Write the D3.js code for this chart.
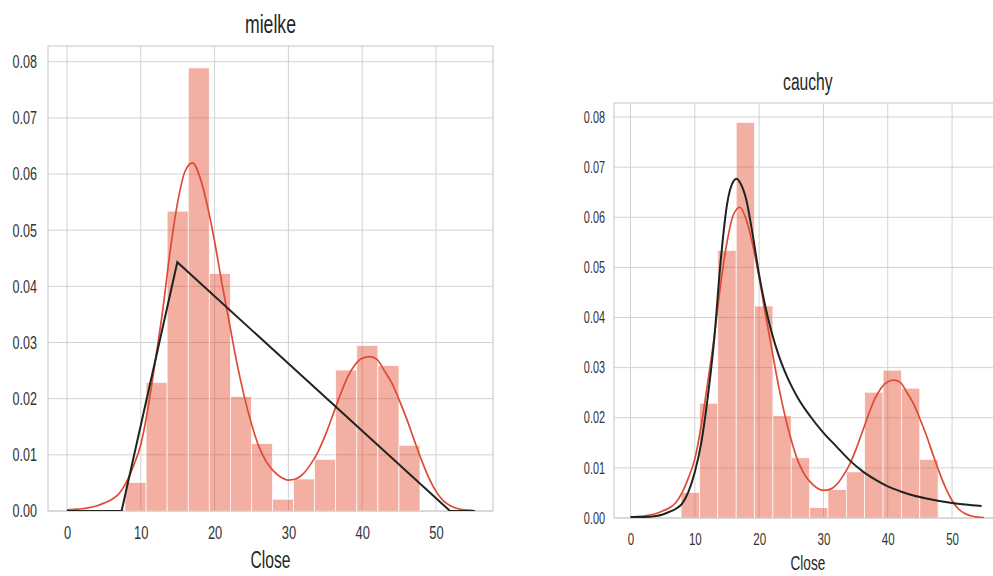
<!DOCTYPE html>
<html>
<head>
<meta charset="utf-8">
<script src="https://cdn.jsdelivr.net/npm/d3@7"></script>
<style>
  html, body { margin: 0; padding: 0; background: #fff; }
  svg { display: block; }
  text { font-family: "Liberation Sans", Arial, sans-serif; fill: #333; }
</style>
</head>
<body>
<svg id="chart" width="993" height="576"></svg>
<script>
// ---------- data ----------
const binEdges = [7.86, 10.72, 13.57, 16.43, 19.28, 22.14, 24.99, 27.85, 30.70, 33.56, 36.41, 39.27, 42.12, 44.98, 47.83];
const binDensity = [0.0051, 0.0229, 0.0534, 0.0789, 0.0423, 0.0204, 0.0120, 0.0021, 0.0057, 0.0092, 0.0251, 0.0295, 0.0259, 0.0117];

const kdeX = [0, 1, 2, 3, 4, 5, 6, 7, 8, 9, 10, 11, 12, 13, 14, 15, 16, 17, 18, 19, 20, 21, 22, 23, 24, 25, 26, 27, 28, 29, 30,
              31, 32, 33, 34, 35, 36, 37, 38, 39, 40, 41, 42, 43, 44, 45, 46, 47, 48, 49, 50, 51, 52, 53, 54, 55];
const kdeY = [0.0002, 0.0003, 0.0004, 0.0006, 0.0009, 0.0014, 0.0020, 0.0030, 0.0050, 0.0080, 0.0118, 0.0185, 0.0270, 0.0360,
              0.0465, 0.0550, 0.0605, 0.0620, 0.0595, 0.0545, 0.0480, 0.0405, 0.0335, 0.0265, 0.0205, 0.0155, 0.0115, 0.0088,
              0.0071, 0.0060, 0.0055, 0.0057, 0.0066, 0.0083, 0.0105, 0.0135, 0.0170, 0.0206, 0.0238, 0.0260, 0.0272, 0.0275,
              0.0270, 0.0250, 0.0228, 0.0198, 0.0165, 0.0128, 0.0092, 0.0060, 0.0035, 0.0018, 0.0009, 0.0004, 0.0002, 0.0001];

const mielkeX = [0, 7.4, 14.95, 51.9, 55.3];
const mielkeY = [0, 0, 0.0443, 0, 0];

const cauchyX = [0, 2, 4, 5, 6, 7, 8, 9, 10, 11, 12, 13, 14, 15, 16, 16.5, 17, 18, 19, 20, 21, 22, 23, 24, 25, 26, 28, 30,
                 32, 34, 36, 38, 40, 42, 44, 46, 48, 50, 52, 54.6];
const cauchyY = [0.0002, 0.0002, 0.0004, 0.0007, 0.0012, 0.0018, 0.0028, 0.0052, 0.0092, 0.0150, 0.0240, 0.0355, 0.0510,
                 0.0625, 0.0672, 0.0677, 0.0670, 0.0635, 0.0565, 0.0485, 0.0420, 0.0368, 0.0326, 0.0292, 0.0264, 0.0240,
                 0.0202, 0.0170, 0.0143, 0.0116, 0.0094, 0.0077, 0.0063, 0.0053, 0.0045, 0.0039, 0.0034, 0.0030, 0.0027, 0.0024];

const xTicks = [0, 10, 20, 30, 40, 50];
const yTicks = [0.00, 0.01, 0.02, 0.03, 0.04, 0.05, 0.06, 0.07, 0.08];
const titles = ["mielke", "cauchy"];
const xLabel = "Close";

// ---------- drawing ----------
const svg = d3.select("#chart");
const SX = 0.68; // horizontal text compression seen in the reference

function panel(cfg) {
  const x = d3.scaleLinear().domain([-2.57, 57.72]).range([cfg.left, cfg.right]);
  const y = d3.scaleLinear().domain([0, 0.0828]).range([cfg.bottom, cfg.top]);
  const g = svg.append("g");

  const clipId = "clip-" + cfg.id;
  svg.append("defs").append("clipPath").attr("id", clipId)
    .append("rect").attr("x", cfg.left).attr("y", cfg.top)
    .attr("width", cfg.right - cfg.left).attr("height", cfg.bottom - cfg.top);

  // grid
  g.append("g").selectAll("line.h").data(yTicks).join("line")
    .attr("x1", cfg.left).attr("x2", cfg.right)
    .attr("y1", d => y(d)).attr("y2", d => y(d))
    .attr("stroke", "#d2d2d2").attr("stroke-width", 1);
  g.append("g").selectAll("line.v").data(xTicks).join("line")
    .attr("x1", d => x(d)).attr("x2", d => x(d))
    .attr("y1", cfg.top).attr("y2", cfg.bottom)
    .attr("stroke", "#d2d2d2").attr("stroke-width", 1);

  // frame
  g.append("rect").attr("x", cfg.left).attr("y", cfg.top)
    .attr("width", cfg.right - cfg.left).attr("height", cfg.bottom - cfg.top)
    .attr("fill", "none").attr("stroke", "#cfcfcf").attr("stroke-width", 1.2);

  const plot = g.append("g").attr("clip-path", `url(#${clipId})`);

  // histogram bars
  plot.append("g").selectAll("rect").data(binDensity).join("rect")
    .attr("x", (d, i) => x(binEdges[i]))
    .attr("width", (d, i) => x(binEdges[i + 1]) - x(binEdges[i]))
    .attr("y", d => y(d))
    .attr("height", d => y(0) - y(d))
    .attr("fill", "#e54123").attr("fill-opacity", 0.42)
    .attr("stroke", "#fff").attr("stroke-width", 0.7);

  // KDE
  const kdeLine = d3.line().x(d => x(d[0])).y(d => y(d[1])).curve(d3.curveMonotoneX);
  plot.append("path").datum(kdeX.map((v, i) => [v, kdeY[i]]))
    .attr("d", kdeLine).attr("fill", "none")
    .attr("stroke", "#dd4b36").attr("stroke-width", 1.7);

  // fitted distribution
  const fitLine = d3.line().x(d => x(d[0])).y(d => y(d[1]))
    .curve(cfg.fitCurve);
  plot.append("path").datum(cfg.fitX.map((v, i) => [v, cfg.fitY[i]]))
    .attr("d", fitLine).attr("fill", "none")
    .attr("stroke", "#1f2420").attr("stroke-width", 2);

  // axes (no tick marks, seaborn whitegrid style)
  const xAxis = g.append("g").attr("transform", `translate(0,${cfg.bottom})`)
    .call(d3.axisBottom(x).tickValues(xTicks).tickFormat(d3.format("d")).tickSize(0).tickPadding(cfg.xPad));
  xAxis.select(".domain").remove();
  xAxis.selectAll("text").style("font-size", cfg.tickFont + "px")
    .attr("transform", `scale(${SX},1)`);

  const yAxis = g.append("g").attr("transform", `translate(${cfg.left},0)`)
    .call(d3.axisLeft(y).tickValues(yTicks).tickFormat(d3.format(".2f")).tickSize(0).tickPadding(cfg.yPad));
  yAxis.select(".domain").remove();
  yAxis.selectAll("text").style("font-size", cfg.yTickFont + "px")
    .attr("x", -cfg.yPad / SX)
    .attr("transform", `scale(${SX},1)`);

  // title
  const cx = (cfg.left + cfg.right) / 2;
  g.append("g").attr("transform", `translate(${cx},${cfg.titleY})`)
    .append("text").attr("text-anchor", "middle")
    .attr("transform", `scale(${SX},1)`)
    .style("font-size", cfg.titleFont + "px").style("fill", "#262626")
    .text(cfg.title);

  // x label
  g.append("g").attr("transform", `translate(${cx},${cfg.labelY})`)
    .append("text").attr("text-anchor", "middle")
    .attr("transform", `scale(${SX},1)`)
    .style("font-size", cfg.labelFont + "px").style("fill", "#262626")
    .text(xLabel);
}

panel({
  id: "a", left: 48, right: 493, top: 46, bottom: 511,
  fitX: mielkeX, fitY: mielkeY, fitCurve: d3.curveLinear,
  title: titles[0], titleY: 33, titleFont: 26,
  labelY: 568, labelFont: 23,
  tickFont: 19, yTickFont: 18.5, xPad: 15, yPad: 11
});

panel({
  id: "b", left: 614, right: 1001.7, top: 103, bottom: 518,
  fitX: cauchyX, fitY: cauchyY, fitCurve: d3.curveMonotoneX,
  title: titles[1], titleY: 90, titleFont: 23,
  labelY: 570, labelFont: 20,
  tickFont: 17, yTickFont: 16, xPad: 15, yPad: 9
});
</script>
</body>
</html>
